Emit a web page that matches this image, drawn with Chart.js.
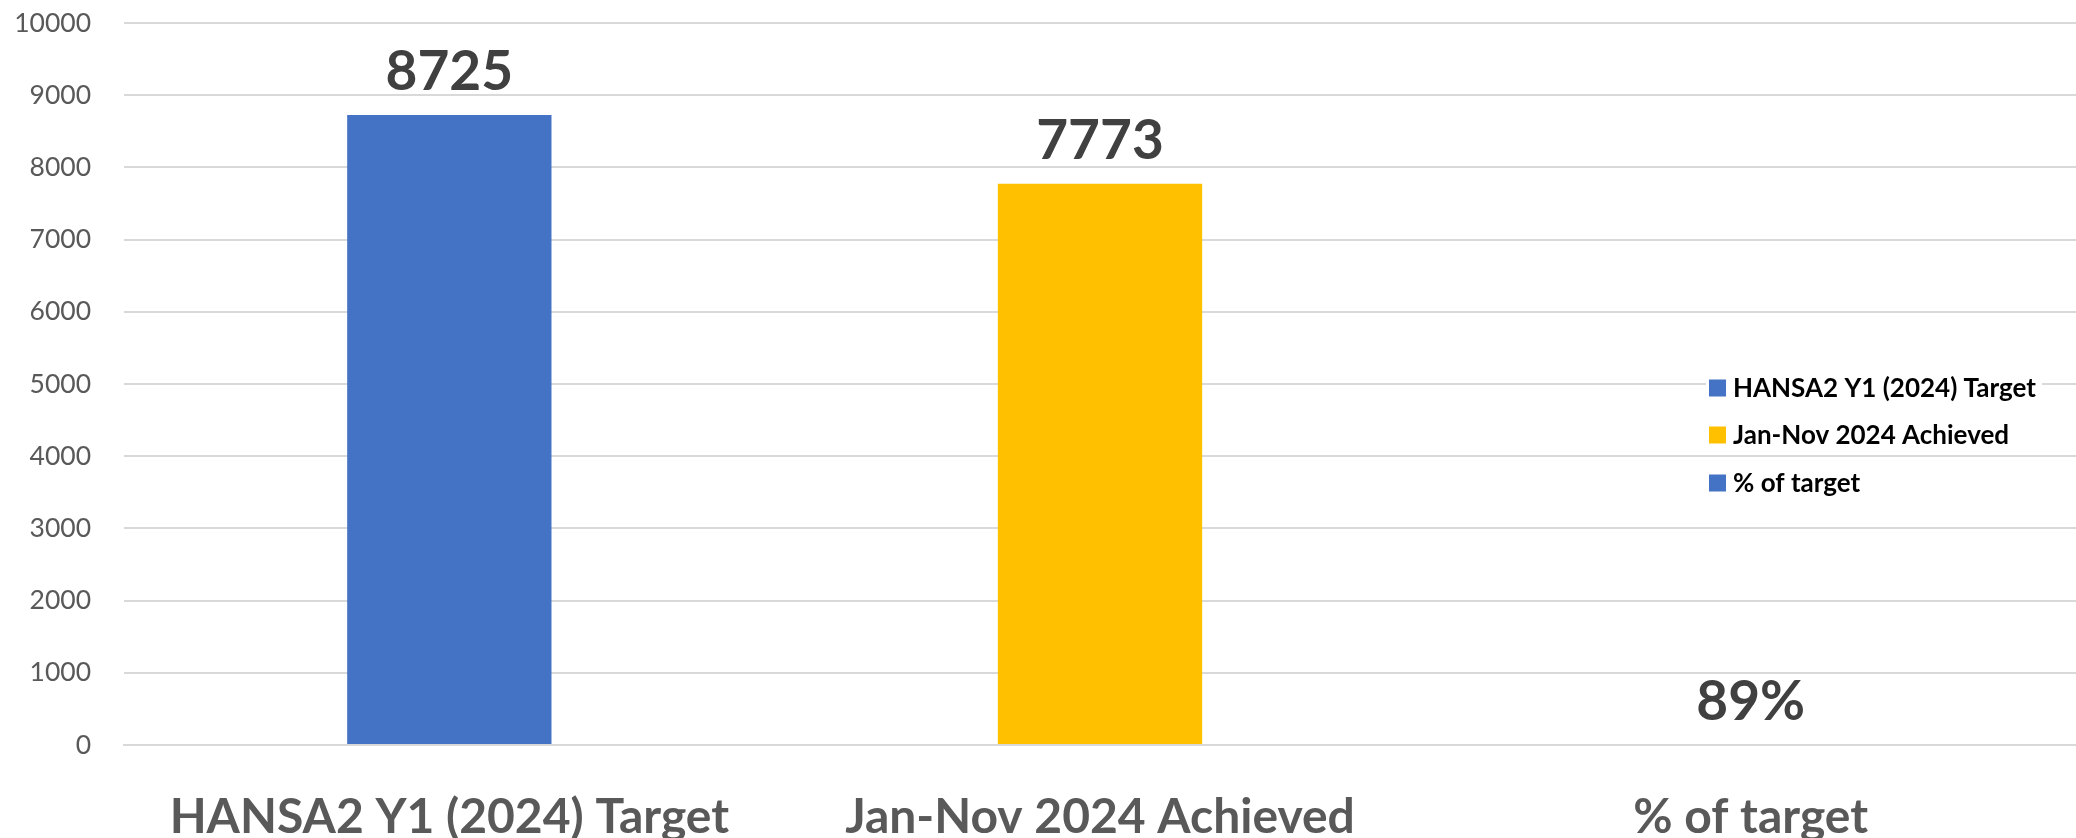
<!DOCTYPE html>
<html>
<head>
<meta charset="utf-8">
<script src="https://cdn.jsdelivr.net/npm/chart.js@4.4.1/dist/chart.umd.min.js"></script>
<style>
  html, body { margin: 0; padding: 0; background: #ffffff; }
  #wrap { width: 2076px; height: 838px; position: relative; }
</style>
</head>
<body>
<div id="wrap"><canvas id="c" width="2076" height="838"></canvas></div>
<script>
// ---- data ----
const categories = ["HANSA2 Y1 (2024) Target", "Jan-Nov 2024 Achieved", "% of target"];
const values = [8725, 7773, 0.89];
const valueFormats = ["number", "number", "percent"];
const barColors = ["#4472C4", "#FFC000", "#4472C4"];
const yTicks = [0, 1000, 2000, 3000, 4000, 5000, 6000, 7000, 8000, 9000, 10000];

function formatValue(v, fmt) {
  return fmt === "percent" ? Math.round(v * 100) + "%" : String(v);
}

const dataLabelPlugin = {
  id: "dataLabels",
  afterDatasetsDraw(chart) {
    const ctx = chart.ctx;
    const meta = chart.getDatasetMeta(0);
    ctx.save();
    ctx.font = "bold 55px Lato";
    ctx.fillStyle = "#404040";
    ctx.textAlign = "center";
    ctx.textBaseline = "alphabetic";
    meta.data.forEach((bar, i) => {
      ctx.fillText(formatValue(values[i], valueFormats[i]), bar.x, bar.y - 25);
    });
    ctx.restore();
  }
};

const sideLegendPlugin = {
  id: "sideLegend",
  afterDraw(chart) {
    const ctx = chart.ctx;
    const x0 = 1709, rowY = [388, 435, 483], box = 17;
    ctx.save();
    ctx.font = "bold 26px Lato";
    ctx.textBaseline = "middle";
    ctx.textAlign = "left";
    categories.forEach((name, i) => {
      const y = rowY[i];
      const w = ctx.measureText(name).width;
      ctx.fillStyle = "#ffffff";
      ctx.fillRect(x0 - 3, y - 18, box + 8 + w + 8, 36);
      ctx.fillStyle = barColors[i];
      ctx.fillRect(x0, y - box / 2, box, box);
      ctx.fillStyle = "#000000";
      ctx.fillText(name, x0 + box + 7, y + 1);
    });
    ctx.restore();
  }
};

new Chart(document.getElementById("c"), {
  type: "bar",
  data: {
    labels: categories,
    datasets: [{
      data: values,
      backgroundColor: barColors,
      inflateAmount: 0,
      barPercentage: 0.314,
      categoryPercentage: 1.0
    }]
  },
  options: {
    responsive: false,
    animation: false,
    events: [],
    layout: { padding: { left: 16, right: -6, top: 23, bottom: 0 } },
    plugins: { legend: { display: false }, tooltip: { enabled: false } },
    scales: {
      x: {
        grid: { display: false, drawTicks: false },
        border: { display: true, color: "#d9d9d9", width: 2, z: 1 },
        ticks: {
          color: "#595959",
          font: { family: "Lato", size: 48, weight: "bold" },
          padding: 44,
          maxRotation: 0,
          autoSkip: false
        },
        afterFit(scale) { scale.height = 93; scale.paddingLeft = 0; scale.paddingRight = 0; }
      },
      y: {
        min: 0,
        max: 10000,
        afterBuildTicks(scale) { scale.ticks = yTicks.map(v => ({ value: v })); },
        afterFit(scale) { scale.width = 108; scale.paddingTop = 0; scale.paddingBottom = 0; },
        grid: { color: "#d9d9d9", lineWidth: 2, drawTicks: false },
        border: { display: false },
        ticks: {
          color: "#595959",
          font: { family: "Lato", size: 26.5 },
          padding: 33,
          callback: (v) => String(v)
        }
      }
    }
  },
  plugins: [dataLabelPlugin, sideLegendPlugin]
});
</script>
</body>
</html>
